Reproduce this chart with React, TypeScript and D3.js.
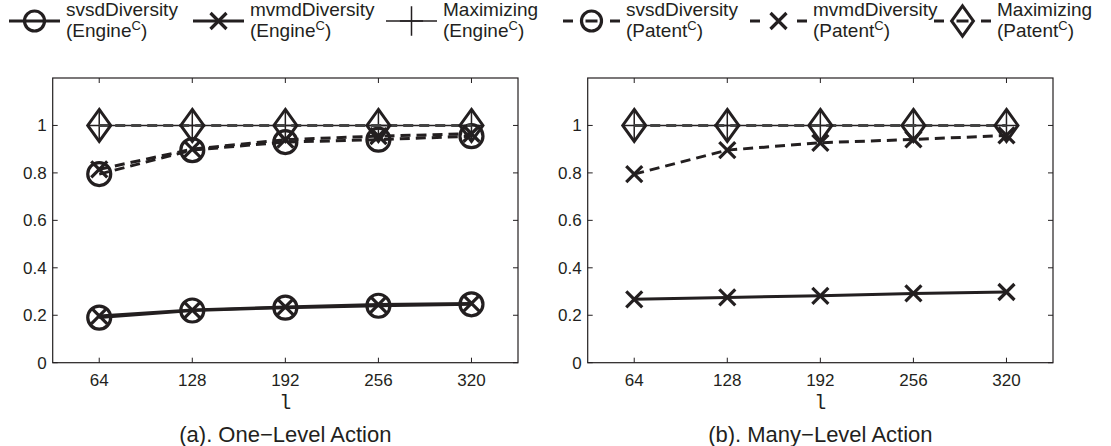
import * as d3 from "d3";

// x values (l) and y tick values
const levels = [64, 128, 192, 256, 320];
const xTicks = [64, 128, 192, 256, 320];
const yTicks = [0, 0.2, 0.4, 0.6, 0.8, 1];

// (a) One-Level Action
const svsdEngineA = [0.19, 0.22, 0.232, 0.24, 0.246];
const mvmdEngineA = [0.197, 0.222, 0.235, 0.245, 0.25];
const maxEngineA = [1, 1, 1, 1, 1];
const svsdPatentA = [0.795, 0.896, 0.93, 0.94, 0.955];
const mvmdPatentA = [0.815, 0.9, 0.94, 0.955, 0.965];
const maxPatentA = [1, 1, 1, 1, 1];

// (b) Many-Level Action
const mvmdEngineB = [0.267, 0.275, 0.282, 0.292, 0.298];
const maxEngineB = [1, 1, 1, 1, 1];
const mvmdPatentB = [0.795, 0.896, 0.927, 0.941, 0.958];
const maxPatentB = [1, 1, 1, 1, 1];

const INK = "#231f20";
const FONT = "'Liberation Sans', Arial, sans-serif";

type Marker = "circle" | "x" | "plus" | "diamond";
type Series = { values: number[]; marker: Marker; dashed: boolean; lw: number; color?: string };

function MarkerShape({ kind, cx, cy, s = 1 }: { kind: Marker; cx: number; cy: number; s?: number }) {
  if (kind === "circle")
    return <circle cx={cx} cy={cy} r={11.5 * s} fill="none" stroke={INK} strokeWidth={3.2} />;
  if (kind === "x") {
    const h = 8 * s;
    return (
      <path d={`M${cx - h},${cy - h}L${cx + h},${cy + h}M${cx - h},${cy + h}L${cx + h},${cy - h}`}
        stroke={INK} strokeWidth={3.2} fill="none" />
    );
  }
  if (kind === "plus") {
    const w = 11 * s, h = 14 * s;
    return (
      <path d={`M${cx - w},${cy}L${cx + w},${cy}M${cx},${cy - h}L${cx},${cy + h}`}
        stroke={INK} strokeWidth={1.5} fill="none" />
    );
  }
  const w = 11.5 * s, h = 16 * s;
  return (
    <path d={`M${cx},${cy - h}L${cx + w},${cy}L${cx},${cy + h}L${cx - w},${cy}Z`}
      stroke={INK} strokeWidth={3} fill="none" />
  );
}

function Panel({ left, right, series, title }: { left: number; right: number; series: Series[]; title: string }) {
  const top = 78, bottom = 362.7;
  const x = d3.scaleLinear().domain([32, 352]).range([left, right]);
  const y = d3.scaleLinear().domain([0, 1.2]).range([bottom, top]);
  const line = d3.line<number>().x((_, i) => x(levels[i])).y((d) => y(d));
  const cx = (left + right) / 2;
  return (
    <g>
      {series.map((s, k) => (
        <g key={k}>
          <path d={line(s.values) || ""} fill="none" stroke={s.color || INK} strokeWidth={s.lw}
            strokeDasharray={s.dashed ? "10,6" : undefined} />
          {s.values.map((v, i) => (
            <MarkerShape key={i} kind={s.marker} cx={x(levels[i])} cy={y(v)} />
          ))}
        </g>
      ))}
      <rect x={left} y={top} width={right - left} height={bottom - top} fill="none" stroke={INK} strokeWidth={1.2} />
      {xTicks.map((t) => (
        <g key={t}>
          <line x1={x(t)} x2={x(t)} y1={bottom} y2={bottom - 5} stroke={INK} />
          <line x1={x(t)} x2={x(t)} y1={top} y2={top + 5} stroke={INK} />
          <text x={x(t)} y={386} textAnchor="middle" fontSize={17} fontFamily={FONT} fill={INK}>{t}</text>
        </g>
      ))}
      {yTicks.map((t) => (
        <g key={t}>
          <line x1={left} x2={left + 5} y1={y(t)} y2={y(t)} stroke={INK} />
          <line x1={right} x2={right - 5} y1={y(t)} y2={y(t)} stroke={INK} />
          <text x={left - 6} y={y(t) + 6} textAnchor="end" fontSize={17} fontFamily={FONT} fill={INK}>{t}</text>
        </g>
      ))}
      <text x={cx} y={409} textAnchor="middle" fontSize={20} fontFamily="'Liberation Mono', monospace" fill={INK}>l</text>
      <text x={cx} y={442} textAnchor="middle" fontSize={22} fontFamily={FONT} fill={INK}>{title}</text>
    </g>
  );
}

const legendNames = ["svsdDiversity", "mvmdDiversity", "Maximizing", "svsdDiversity", "mvmdDiversity", "Maximizing"];
const legendSub = ["Engine", "Engine", "Engine", "Patent", "Patent", "Patent"];
const legendMarkers: Marker[] = ["circle", "x", "plus", "circle", "x", "diamond"];
const legendLineStart = [9, 193, 386, 563, 750, 934];

function Legend() {
  return (
    <g>
      {legendNames.map((name, i) => {
        const dashed = i >= 3;
        const x0 = legendLineStart[i];
        const x1 = x0 + (dashed ? 57 : 51);
        const m = (x0 + x1) / 2;
        const ly = 21;
        const kind = legendMarkers[i];
        const sc = kind === "circle" ? 0.87 : kind === "diamond" ? 0.95 : kind === "plus" ? 1.05 : 1;
        return (
          <g key={i}>
            {dashed ? (
              <>
                <line x1={x0} x2={x0 + 10} y1={ly} y2={ly} stroke={INK} strokeWidth={3} />
                <line x1={x1 - 10} x2={x1} y1={ly} y2={ly} stroke={INK} strokeWidth={3} />
                {kind !== "x" && (
                  <line x1={m - 6} x2={m + 6} y1={ly} y2={ly} stroke={INK} strokeWidth={3} />
                )}
              </>
            ) : (
              <line x1={x0} x2={x1} y1={ly} y2={ly} stroke={INK} strokeWidth={i === 2 ? 1.5 : 3} />
            )}
            <MarkerShape kind={kind} cx={m} cy={ly} s={sc} />
            <text x={x1 + 6} y={16} fontSize={19} fontFamily={FONT} fill={INK}>{name}</text>
            <text x={x1 + 6} y={37} fontSize={19} fontFamily={FONT} fill={INK}>
              ({legendSub[i]}
              <tspan dy={-7} fontSize={13}>C</tspan>
              <tspan dy={7}>)</tspan>
            </text>
          </g>
        );
      })}
    </g>
  );
}

export default function App() {
  const seriesA: Series[] = [
    { values: svsdEngineA, marker: "circle", dashed: false, lw: 3 },
    { values: mvmdEngineA, marker: "x", dashed: false, lw: 3 },
    { values: maxEngineA, marker: "plus", dashed: false, lw: 1.5 },
    { values: svsdPatentA, marker: "circle", dashed: true, lw: 3 },
    { values: mvmdPatentA, marker: "x", dashed: true, lw: 3 },
    { values: maxPatentA, marker: "diamond", dashed: true, lw: 3, color: "#444" },
  ];
  const seriesB: Series[] = [
    { values: mvmdEngineB, marker: "x", dashed: false, lw: 3 },
    { values: maxEngineB, marker: "plus", dashed: false, lw: 1.5 },
    { values: mvmdPatentB, marker: "x", dashed: true, lw: 3 },
    { values: maxPatentB, marker: "diamond", dashed: true, lw: 3, color: "#444" },
  ];
  return (
    <svg width={1111} height={446} style={{ position: "absolute", left: 0, top: 0, background: "#fff" }}>
      <Legend />
      <Panel left={52.7} right={518} series={seriesA} title="(a). One−Level Action" />
      <Panel left={587.7} right={1053} series={seriesB} title="(b). Many−Level Action" />
    </svg>
  );
}
